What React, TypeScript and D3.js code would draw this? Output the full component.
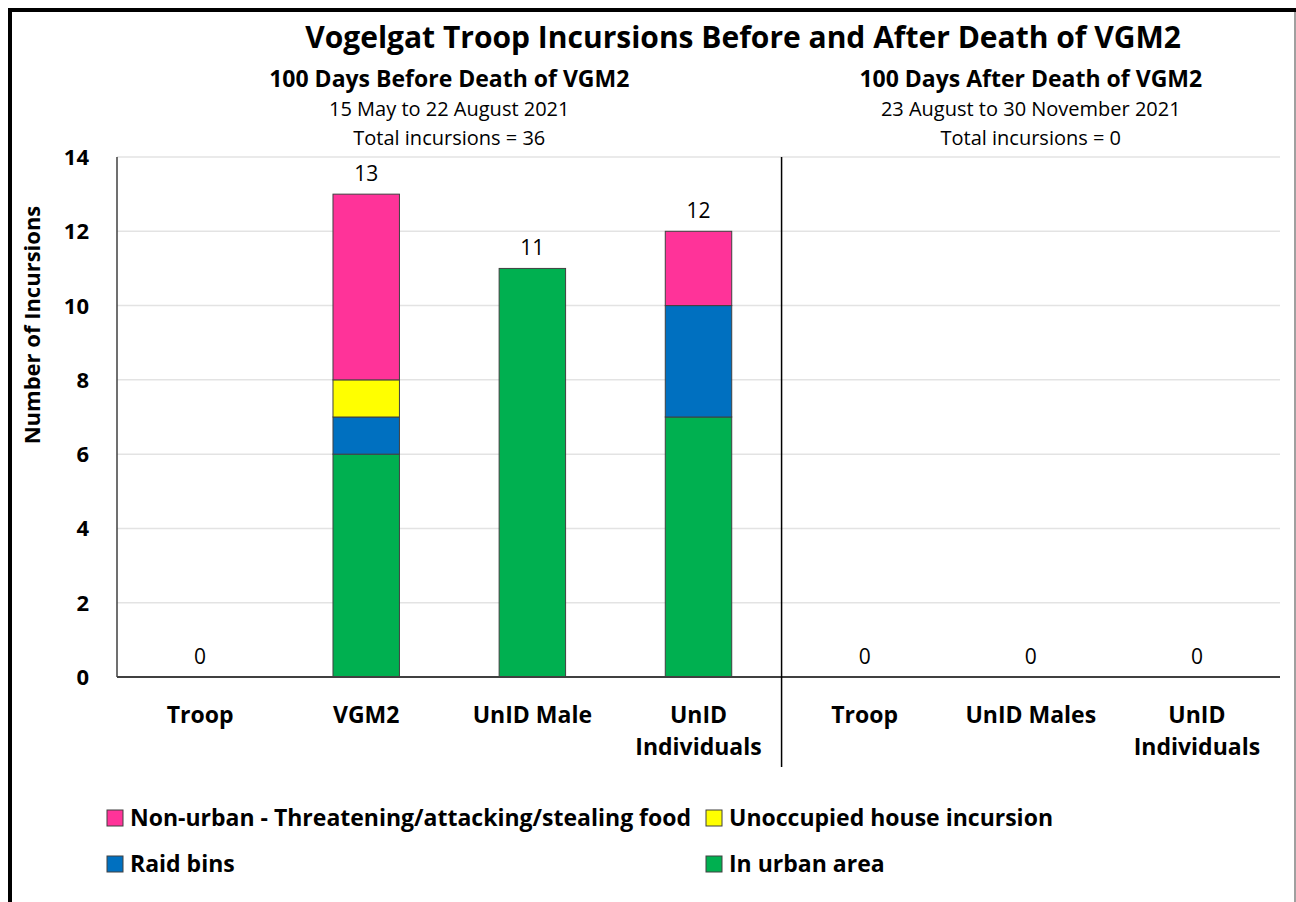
import * as d3 from "d3";
import React, { useEffect, useRef } from "react";

// categories (before | after death of VGM2)
const categoryIds = ["b-troop", "b-vgm2", "b-male", "b-indiv", "a-troop", "a-males", "a-indiv"];
const categoryLabels = [["Troop"], ["VGM2"], ["UnID Male"], ["UnID", "Individuals"], ["Troop"], ["UnID Males"], ["UnID", "Individuals"]];

// series values, stacked bottom to top
const inUrbanArea = [0, 6, 11, 7, 0, 0, 0];
const raidBins = [0, 1, 0, 3, 0, 0, 0];
const unoccupiedHouse = [0, 1, 0, 0, 0, 0, 0];
const nonUrban = [0, 5, 0, 2, 0, 0, 0];

const seriesNames = ["In urban area", "Raid bins", "Unoccupied house incursion", "Non-urban - Threatening/attacking/stealing food"];
const seriesColors = ["#00B050", "#0070C0", "#FFFF00", "#FF3399"];
const yTicks = [0, 2, 4, 6, 8, 10, 12, 14];

const FONT = "'Open Sans', Lato, sans-serif";

const App = () => {
  const svgRef = useRef<SVGSVGElement>(null);

  useEffect(() => {
    const svg = d3.select(svgRef.current);
    svg.selectAll("*").remove();
    const W = 1296, H = 902;
    svg.attr("width", W).attr("height", H).style("font-family", FONT);

    svg.append("rect").attr("width", W).attr("height", H).attr("fill", "#fff");
    // outer frame (right/bottom edges fall outside the picture)
    svg.append("rect")
      .attr("x", 10).attr("y", 10).attr("width", W + 50).attr("height", H + 50)
      .attr("fill", "none").attr("stroke", "#000").attr("stroke-width", 4);
    svg.append("line").attr("x1", W - 1).attr("x2", W - 1).attr("y1", 12).attr("y2", H)
      .attr("stroke", "#808080").attr("stroke-width", 1.5);

    const left = 117, right = 1280, top = 157, bottom = 677;

    const x = d3.scaleBand().domain(categoryIds).range([left, right]).paddingInner(0.6).paddingOuter(0.3);
    const y = d3.scaleLinear().domain([0, 14]).range([bottom, top]);

    // gridlines
    svg.append("g").selectAll("line").data(yTicks.filter((t) => t > 0)).join("line")
      .attr("x1", left).attr("x2", right)
      .attr("y1", (d) => y(d)).attr("y2", (d) => y(d))
      .attr("stroke", "#e3e3e3").attr("stroke-width", 1.5);

    // stacked bars
    const table = categoryIds.map((id, i) => ({
      id,
      s0: inUrbanArea[i], s1: raidBins[i], s2: unoccupiedHouse[i], s3: nonUrban[i],
    }));
    const stack = d3.stack<any>().keys(["s0", "s1", "s2", "s3"]);
    const layers = stack(table);

    layers.forEach((layer, li) => {
      svg.append("g").selectAll("rect").data(layer.filter((d) => d[1] - d[0] > 0)).join("rect")
        .attr("x", (d) => x(d.data.id)!)
        .attr("width", x.bandwidth())
        .attr("y", (d) => y(d[1]))
        .attr("height", (d) => y(d[0]) - y(d[1]))
        .attr("fill", seriesColors[li])
        .attr("stroke", "#404040").attr("stroke-width", 1);
    });

    // total labels
    svg.append("g").selectAll("text").data(table).join("text")
      .attr("x", (d) => x(d.id)! + x.bandwidth() / 2)
      .attr("y", (d) => y(d.s0 + d.s1 + d.s2 + d.s3) - 13)
      .attr("text-anchor", "middle")
      .attr("font-size", 21)
      .attr("fill", "#000")
      .text((d) => d.s0 + d.s1 + d.s2 + d.s3);

    // axes lines
    svg.append("line").attr("x1", left).attr("x2", left).attr("y1", top).attr("y2", bottom)
      .attr("stroke", "#404040").attr("stroke-width", 1.5);
    svg.append("line").attr("x1", left).attr("x2", right).attr("y1", bottom).attr("y2", bottom)
      .attr("stroke", "#404040").attr("stroke-width", 2);
    // separator between periods
    const sepX = (x("b-indiv")! + x.bandwidth() + x("a-troop")!) / 2;
    svg.append("line").attr("x1", sepX).attr("x2", sepX).attr("y1", top).attr("y2", 767)
      .attr("stroke", "#000").attr("stroke-width", 1.5);

    // y tick labels
    svg.append("g").selectAll("text").data(yTicks).join("text")
      .attr("x", 89).attr("y", (d) => y(d) + 8)
      .attr("text-anchor", "end")
      .attr("font-size", 22).attr("font-weight", 700)
      .text((d) => d);

    // y title
    svg.append("text")
      .attr("transform", "translate(40,325) rotate(-90)")
      .attr("text-anchor", "middle")
      .attr("font-size", 22).attr("font-weight", 700)
      .text("Number of Incursions");

    // x labels
    const xl = svg.append("g").selectAll("text").data(categoryIds).join("text")
      .attr("x", (d) => x(d)! + x.bandwidth() / 2)
      .attr("y", 723)
      .attr("text-anchor", "middle")
      .attr("font-size", 23).attr("font-weight", 700);
    xl.each(function (d, i) {
      const t = d3.select(this);
      categoryLabels[i].forEach((line, k) => {
        t.append("tspan").attr("x", x(d)! + x.bandwidth() / 2).attr("dy", k === 0 ? 0 : 32).text(line);
      });
    });

    // titles
    svg.append("text").attr("x", 743).attr("y", 48).attr("text-anchor", "middle")
      .attr("font-size", 30).attr("font-weight", 700).text("Vogelgat Troop Incursions Before and After Death of VGM2");

    const panels = [
      { cx: (left + sepX) / 2, head: "100 Days Before Death of VGM2", dates: "15 May to 22 August 2021", total: "Total incursions = 36" },
      { cx: (sepX + right) / 2, head: "100 Days After Death of VGM2", dates: "23 August to 30 November 2021", total: "Total incursions = 0" },
    ];
    panels.forEach((p) => {
      svg.append("text").attr("x", p.cx).attr("y", 87).attr("text-anchor", "middle")
        .attr("font-size", 23).attr("font-weight", 700).text(p.head);
      svg.append("text").attr("x", p.cx).attr("y", 116).attr("text-anchor", "middle")
        .attr("font-size", 20).text(p.dates);
      svg.append("text").attr("x", p.cx).attr("y", 145).attr("text-anchor", "middle")
        .attr("font-size", 20).text(p.total);
    });

    // legend
    const legendItems = [
      { name: seriesNames[3], color: seriesColors[3], lx: 107, ly: 818 },
      { name: seriesNames[2], color: seriesColors[2], lx: 706, ly: 818 },
      { name: seriesNames[1], color: seriesColors[1], lx: 107, ly: 864 },
      { name: seriesNames[0], color: seriesColors[0], lx: 706, ly: 864 },
    ];
    const lg = svg.append("g").selectAll("g").data(legendItems).join("g")
      .attr("transform", (d) => `translate(${d.lx},${d.ly})`);
    lg.append("rect").attr("x", 0).attr("y", -8).attr("width", 16).attr("height", 16)
      .attr("fill", (d) => d.color).attr("stroke", "#404040").attr("stroke-width", 1);
    lg.append("text").attr("x", 23).attr("y", 8)
      .attr("font-size", 23).attr("font-weight", 700).text((d) => d.name);
  }, []);

  return <svg ref={svgRef} style={{ position: "absolute", left: 0, top: 0 }}></svg>;
};

export default App;
